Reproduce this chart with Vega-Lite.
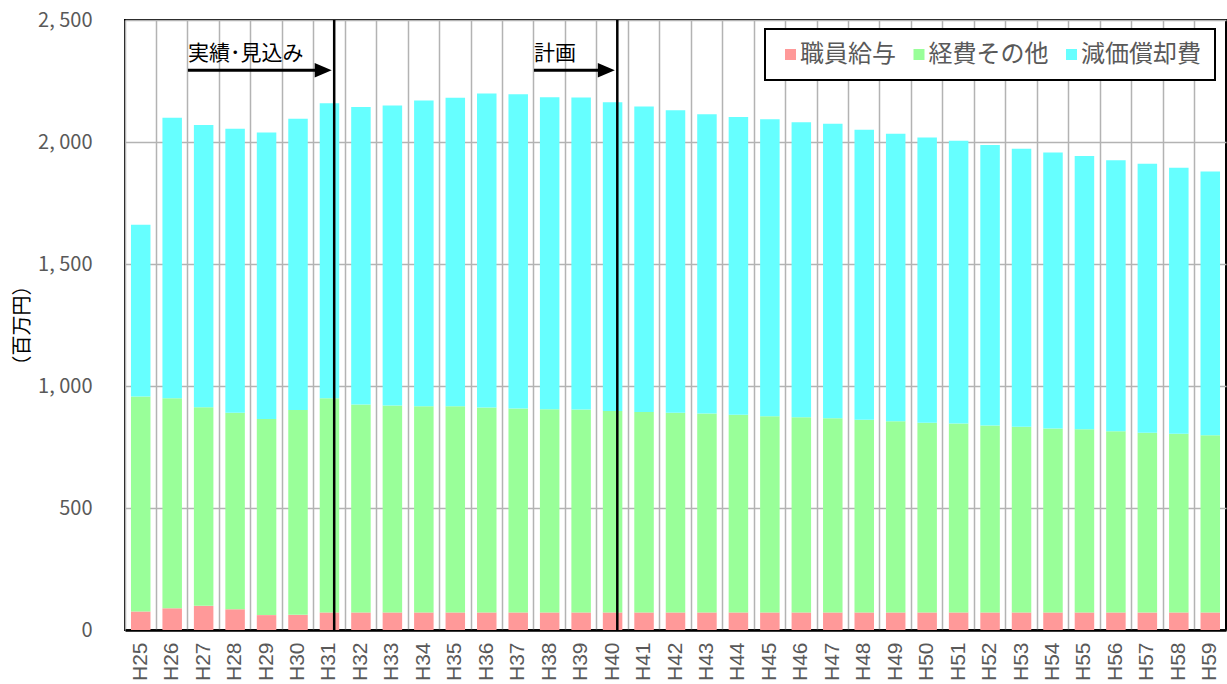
{
  "$schema": "https://vega.github.io/schema/vega-lite/v6.json",
  "width": 1101,
  "height": 610,
  "autosize": "none",
  "padding": {"left": 125, "top": 20, "right": 1, "bottom": 54},
  "background": "white",
  "datasets": {
    "costs": [
      {"年度": "H25", "職員給与": 76, "経費その他": 881, "減価償却費": 704},
      {"年度": "H26", "職員給与": 89, "経費その他": 861, "減価償却費": 1149},
      {"年度": "H27", "職員給与": 99, "経費その他": 814, "減価償却費": 1157},
      {"年度": "H28", "職員給与": 85, "経費その他": 805, "減価償却費": 1164},
      {"年度": "H29", "職員給与": 61, "経費その他": 804, "減価償却費": 1174},
      {"年度": "H30", "職員給与": 62, "経費その他": 840, "減価償却費": 1193},
      {"年度": "H31", "職員給与": 72, "経費その他": 878, "減価償却費": 1209},
      {"年度": "H32", "職員給与": 72, "経費その他": 852, "減価償却費": 1219},
      {"年度": "H33", "職員給与": 72, "経費その他": 848, "減価償却費": 1230},
      {"年度": "H34", "職員給与": 72, "経費その他": 845, "減価償却費": 1253},
      {"年度": "H35", "職員給与": 72, "経費その他": 845, "減価償却費": 1264},
      {"年度": "H36", "職員給与": 72, "経費その他": 840, "減価償却費": 1287},
      {"年度": "H37", "職員給与": 72, "経費その他": 836, "減価償却費": 1288},
      {"年度": "H38", "職員給与": 72, "経費その他": 833, "減価償却費": 1278},
      {"年度": "H39", "職員給与": 72, "経費その他": 832, "減価償却費": 1278},
      {"年度": "H40", "職員給与": 72, "経費その他": 826, "減価償却費": 1265},
      {"年度": "H41", "職員給与": 72, "経費その他": 821, "減価償却費": 1252},
      {"年度": "H42", "職員給与": 72, "経費その他": 818, "減価償却費": 1240},
      {"年度": "H43", "職員給与": 72, "経費その他": 815, "減価償却費": 1227},
      {"年度": "H44", "職員給与": 72, "経費その他": 810, "減価償却費": 1220},
      {"年度": "H45", "職員給与": 72, "経費その他": 804, "減価償却費": 1217},
      {"年度": "H46", "職員給与": 72, "経費その他": 800, "減価償却費": 1209},
      {"年度": "H47", "職員給与": 72, "経費その他": 796, "減価償却費": 1207},
      {"年度": "H48", "職員給与": 72, "経費その他": 790, "減価償却費": 1188},
      {"年度": "H49", "職員給与": 72, "経費その他": 784, "減価償却費": 1178},
      {"年度": "H50", "職員給与": 72, "経費その他": 777, "減価償却費": 1169},
      {"年度": "H51", "職員給与": 72, "経費その他": 774, "減価償却費": 1159},
      {"年度": "H52", "職員給与": 72, "経費その他": 766, "減価償却費": 1150},
      {"年度": "H53", "職員給与": 72, "経費その他": 761, "減価償却費": 1139},
      {"年度": "H54", "職員給与": 72, "経費その他": 754, "減価償却費": 1131},
      {"年度": "H55", "職員給与": 72, "経費その他": 751, "減価償却費": 1120},
      {"年度": "H56", "職員給与": 72, "経費その他": 743, "減価償却費": 1110},
      {"年度": "H57", "職員給与": 72, "経費その他": 736, "減価償却費": 1103},
      {"年度": "H58", "職員給与": 72, "経費その他": 732, "減価償却費": 1090},
      {"年度": "H59", "職員給与": 72, "経費その他": 726, "減価償却費": 1081}
    ],
    "dividers": [{"年度": "H31"}, {"年度": "H40"}],
    "arrows": [
      {"label": "実績･見込み", "from": "H27", "to": "H31"},
      {"label": "計画", "from": "H38", "to": "H40"}
    ]
  },
  "layer": [
    {
      "data": {"name": "costs"},
      "transform": [{"fold": ["職員給与", "経費その他", "減価償却費"], "as": ["item", "value"]}],
      "mark": {"type": "bar", "width": {"band": 0.62}},
      "encoding": {
        "x": {
          "field": "年度", "type": "nominal", "sort": null, "title": null,
          "scale": {"paddingInner": 0, "paddingOuter": 0}
        },
        "y": {
          "field": "value", "type": "quantitative", "stack": "zero", "title": "（百万円）",
          "scale": {"domain": [0, 2500], "nice": false},
          "axis": {
            "values": [0, 500, 1000, 1500, 2000, 2500],
            "labelExpr": "replace(format(datum.value, ','), ',', ', ')"
          }
        },
        "color": {
          "field": "item", "type": "nominal",
          "scale": {"domain": ["職員給与", "経費その他", "減価償却費"], "range": ["#FF9999", "#99FF99", "#66FFFF"]},
          "legend": {
            "title": null, "orient": "none", "legendX": 640, "legendY": 9, "direction": "horizontal",
            "symbolType": "square", "symbolSize": 121, "symbolStrokeWidth": 0,
            "labelFontSize": 24, "labelColor": "#595959", "labelFont": "Noto Sans CJK JP", "labelOffset": -2.5,
            "columnPadding": 10.5, "padding": 13.5,
            "fillColor": "white", "strokeColor": "black"
          }
        },
        "order": {"field": "item", "sort": "descending"}
      }
    },
    {
      "data": {"name": "dividers"},
      "mark": {"type": "rule", "color": "black", "strokeWidth": 2.5},
      "encoding": {
        "x": {"field": "年度", "type": "nominal", "sort": null, "title": null, "bandPosition": 0.65}
      }
    },
    {
      "data": {"name": "arrows"},
      "mark": {"type": "rule", "color": "black", "strokeWidth": 3},
      "encoding": {
        "x": {"field": "from", "type": "nominal", "sort": null, "title": null, "bandPosition": 0},
        "x2": {"field": "to", "bandPosition": 0.3},
        "y": {"datum": 2294, "type": "quantitative"}
      }
    },
    {
      "data": {"name": "arrows"},
      "mark": {"type": "point", "shape": "M-1,-0.85L1,0L-1,0.85Z", "size": 289, "filled": true, "color": "black", "opacity": 1},
      "encoding": {
        "x": {"field": "to", "type": "nominal", "sort": null, "title": null, "bandPosition": 0.3},
        "y": {"datum": 2294, "type": "quantitative"}
      }
    },
    {
      "data": {"name": "arrows"},
      "mark": {"type": "text", "align": "left", "baseline": "middle", "fontSize": 21, "font": "Noto Sans CJK JP", "color": "black"},
      "encoding": {
        "x": {"field": "from", "type": "nominal", "sort": null, "title": null, "bandPosition": 0},
        "y": {"datum": 2362, "type": "quantitative"},
        "text": {"field": "label"}
      }
    }
  ],
  "config": {
    "view": {"stroke": "black", "strokeWidth": 2},
    "axis": {
      "grid": true, "gridColor": "#b3b3b3", "gridWidth": 1.5, "ticks": false,
      "labelColor": "#595959", "labelFont": "Noto Sans CJK JP"
    },
    "axisX": {
      "bandPosition": 0, "labelAngle": 270, "labelFontSize": 21, "labelPadding": 12,
      "labelFont": "Liberation Sans Narrow, Liberation Sans",
      "domain": true, "domainColor": "black", "domainWidth": 2.5
    },
    "axisY": {
      "domain": false, "labelFontSize": 20, "labelPadding": 33,
      "titleFont": "Noto Sans CJK JP", "titleFontSize": 20, "titleFontWeight": "normal", "titleColor": "black",
      "titleX": -103, "titleY": 305, "titleBaseline": "middle", "titleAngle": 270
    },
    "legend": {"strokeWidth": 2}
  }
}
